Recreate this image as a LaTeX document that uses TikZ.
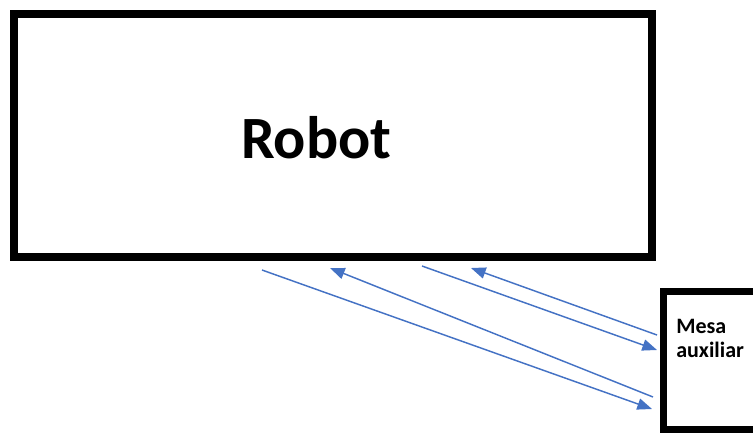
\documentclass[tikz,border=0pt]{standalone}
\usepackage{fontspec}
\setmainfont{Carlito}
\usetikzlibrary{arrows.meta}
\definecolor{flowblue}{RGB}{68,114,196}

\begin{document}
\begin{tikzpicture}[x=0.75pt, y=-0.75pt]

        \tikzstyle{block} = [rectangle, draw=black, fill=white, inner sep=0pt]
        \tikzstyle{flow} = [draw=flowblue, line width=1.1pt, -{Triangle[length=11pt, width=8.5pt]}]

        \useasboundingbox (0,0) rectangle (753,433);

        \node (robot) [block, line width=6pt, minimum width=478.5pt, minimum height=182.25pt] at (333,135.5) {};
        \node (robotname) [font=\fontsize{45}{50}\selectfont\bfseries] at ([xshift=-12.5pt, yshift=-1.5pt]robot.center) {Robot};
        \node (mesa) [block, line width=5.25pt, minimum width=87.4pt, minimum height=103.5pt] at (721.75,360) {};
        \node (mesaname) [anchor=north west, align=left, inner sep=0pt, font=\fontsize{16.5}{18}\selectfont\bfseries] at (676,319) {Mesa\\ auxiliar};

        % ends of the four transfers
        \coordinate (outA) at (262,270);
        \coordinate (inA) at (652,409);
        \coordinate (outB) at (653,397);
        \coordinate (inB) at (330,268);
        \coordinate (outC) at (422,266);
        \coordinate (inC) at (657,350);
        \coordinate (outD) at (657,335);
        \coordinate (inD) at (471,268);

        \draw [flow] (outA) -- (inA);
        \draw [flow] (outB) -- (inB);
        \draw [flow] (outC) -- (inC);
        \draw [flow] (outD) -- (inD);
    \end{tikzpicture}
\end{document}
